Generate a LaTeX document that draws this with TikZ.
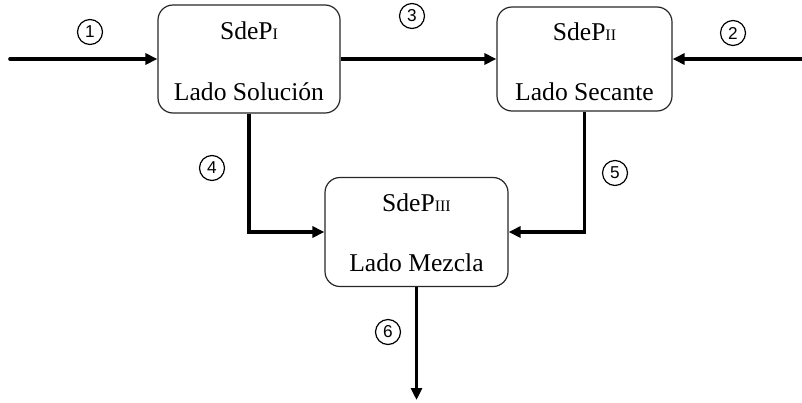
\documentclass[tikz,border=0pt]{standalone}
\usepackage{fontspec}
\setmainfont{Liberation Serif}
\newfontfamily\numfont{Liberation Sans}
\usetikzlibrary{arrows.meta}
\tikzset{
  unit/.style={draw=black!85, line width=0.6pt, rounded corners=7.5pt},
  lbl/.style={inner sep=0pt, font=\fontsize{12.8}{14}\selectfont},
  tag/.style={circle, draw, line width=0.6pt, minimum size=12.5pt, inner sep=0pt, font=\numfont\fontsize{8.6}{9}\selectfont},
  flow/.style={line width=1.8pt, -{Triangle[length=6pt, width=5.5pt]}},
  pipe/.style={line width=1.8pt}
}
\newcommand{\rmsub}[1]{{\fontsize{8}{8}\selectfont #1}}
\begin{document}
\begin{tikzpicture}[x=0.5pt, y=-0.5pt]
\useasboundingbox (0,0) rectangle (802,402);
% process blocks
\node[unit, minimum width=91pt, minimum height=54pt] (b1) at (249,59) {};
\node[unit, minimum width=87.5pt, minimum height=52pt] (b2) at (584.5,59) {};
\node[unit, minimum width=91.5pt, minimum height=54.5pt] (b3) at (416.5,232) {};
% block captions
\node[lbl] (t1a) at (249,31) {SdeP\rmsub{I}};
\node[lbl] (t1b) at (249,92) {Lado Solución};
\node[lbl] (t2a) at (584.5,32) {SdeP\rmsub{II}};
\node[lbl] (t2b) at (584.5,92) {Lado Secante};
\node[lbl] (t3a) at (416.5,203) {SdeP\rmsub{III}};
\node[lbl] (t3b) at (416.5,263) {Lado Mezcla};
% stream numbers
\node[tag] (n1) at (90,32) {1};
\node[tag] (n2) at (733,33) {2};
\node[tag] (n3) at (412,16) {3};
\node[tag] (n4) at (212,168) {4};
\node[tag] (n5) at (615,173) {5};
\node[tag] (n6) at (388,332) {6};
% stream ends
\coordinate (in1) at (10,59);
\coordinate (in2) at (802,59);
\coordinate (out6) at (416.5,400);
% streams
\draw[flow, line cap=round] (in1) -- (b1.west);
\draw[flow] (b1.east) -- (b2.west);
\draw[flow] (in2) -- (b2.east);
\draw[flow] (b1.south) |- (b3.west);
\draw[flow] (b2.south) |- (b3.east);
\draw[flow] (b3.south) -- (out6);
\end{tikzpicture}
\end{document}
